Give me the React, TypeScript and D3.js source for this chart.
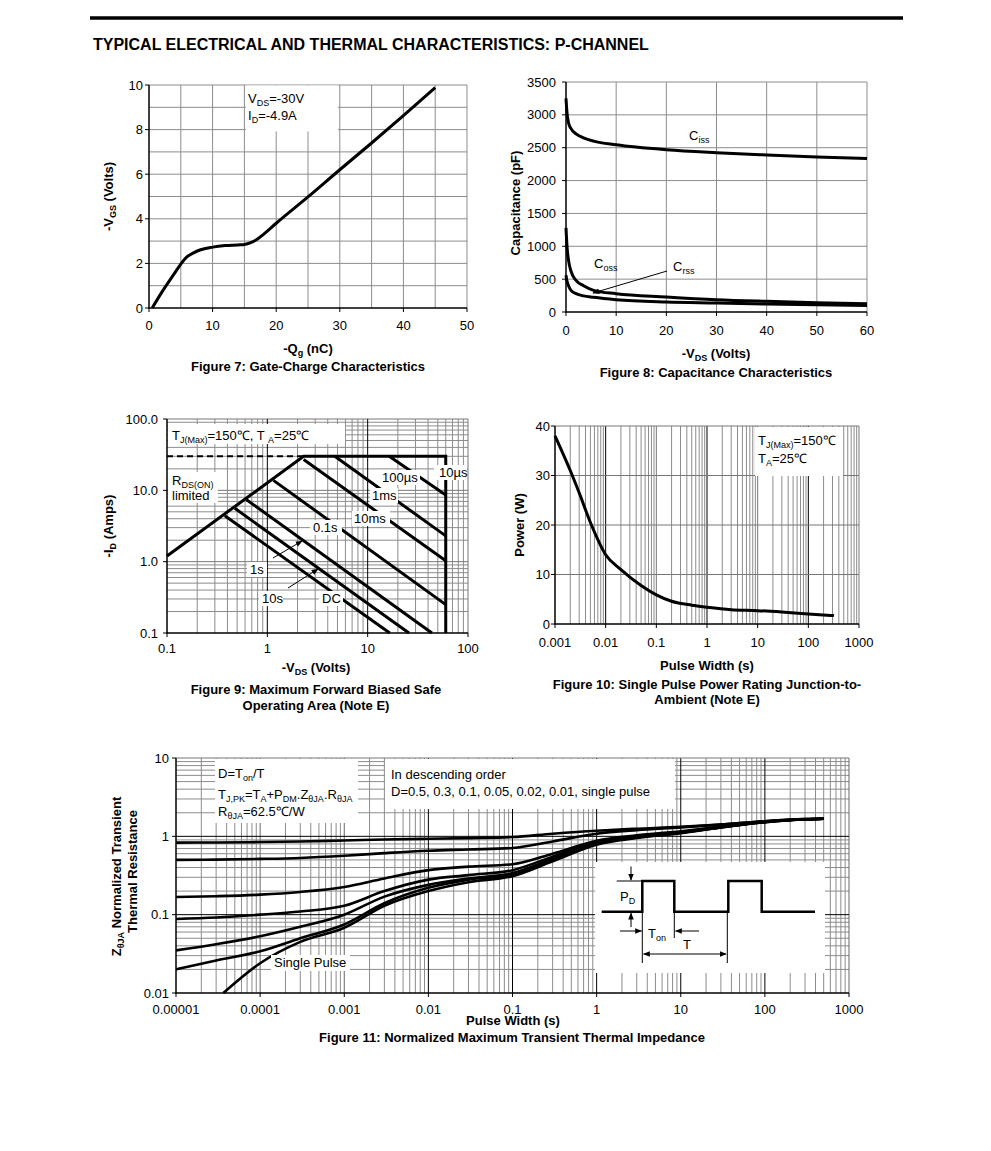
import React from "react";
import * as d3 from "d3";

const FONT = "'Liberation Sans', Arial, Helvetica, sans-serif";
const GRID = "#8c8c8c";

// ---------- Figure 7: Gate charge ----------
const gateChargeQg = [0.5, 2, 4, 5, 6, 7, 8, 10, 12, 14, 15, 16, 17, 18, 20, 25, 30, 35, 40, 45];
const gateChargeVgs = [0, 0.7, 1.55, 1.97, 2.3, 2.47, 2.6, 2.73, 2.8, 2.83, 2.85, 2.93, 3.08, 3.3, 3.8, 4.98, 6.2, 7.4, 8.63, 9.88];
const fig7XTicks = [0, 10, 20, 30, 40, 50];
const fig7YTicks = [0, 2, 4, 6, 8, 10];

// ---------- Figure 8: Capacitance ----------
const capVds = [0, 0.2, 0.5, 1, 2, 3.5, 5.5, 10, 20, 30, 40, 50, 60];
const capCiss = [3250, 3030, 2880, 2790, 2710, 2650, 2600, 2545, 2470, 2425, 2390, 2360, 2335];
const capCoss = [1280, 1000, 790, 620, 480, 400, 330, 278, 228, 187, 162, 142, 126];
const capCrss = [560, 470, 400, 330, 280, 245, 223, 187, 152, 137, 121, 111, 100];
const fig8XTicks = [0, 10, 20, 30, 40, 50, 60];
const fig8YTicks = [0, 500, 1000, 1500, 2000, 2500, 3000, 3500];

// ---------- Figure 9: SOA ----------
const soaRdsVds = [0.1, 2.3];
const soaRdsId = [1.2, 30];
const soaIdMax = 30;
const soaVdsMax = 60;
const soaStartVds = [16.4, 4.7, 2.3, 1.15, 0.62, 0.474, 0.377];
const soaStartId = [30, 30, 27, 13.8, 7.4, 5.6, 4.4];
const soaEndVds = [60, 60, 60, 60, 43.7, 25.8, 16.6];
const soaEndId = [8.6, 2.3, 1.03, 0.25, 0.1, 0.1, 0.1];
const soaLabels = ["100µs", "10µs", "1ms", "10ms", "0.1s", "1s", "10s", "DC"];
const soaXTicks = [0.1, 1, 10, 100];
const soaXTickLabels = ["0.1", "1", "10", "100"];
const soaYTicks = [0.1, 1, 10, 100];
const soaYTickLabels = ["0.1", "1.0", "10.0", "100.0"];

// ---------- Figure 10: Single pulse power ----------
const pulseWidth = [0.001, 0.002, 0.003, 0.005, 0.01, 0.02, 0.05, 0.1, 0.2, 0.5, 1, 3, 10, 30, 100, 320];
const pulsePower = [38, 31, 26.5, 20.5, 14, 11, 7.8, 5.9, 4.6, 3.8, 3.4, 2.9, 2.7, 2.4, 2.0, 1.7];
const fig10XTicks = [0.001, 0.01, 0.1, 1, 10, 100, 1000];
const fig10XTickLabels = ["0.001", "0.01", "0.1", "1", "10", "100", "1000"];
const fig10YTicks = [0, 10, 20, 30, 40];

// ---------- Figure 11: Transient thermal impedance ----------
const zthT = [1e-5, 3e-5, 1e-4, 3e-4, 1e-3, 3e-3, 0.01, 0.03, 0.1, 0.3, 1, 3, 10, 30, 100, 300, 500];
const zthD05 = [0.83, 0.835, 0.845, 0.86, 0.885, 0.91, 0.93, 0.95, 0.98, 1.08, 1.18, 1.25, 1.32, 1.42, 1.56, 1.66, 1.68];
const zthD03 = [0.5, 0.505, 0.515, 0.53, 0.565, 0.61, 0.655, 0.68, 0.71, 0.86, 1.08, 1.2, 1.3, 1.41, 1.56, 1.66, 1.68];
const zthD01 = [0.168, 0.172, 0.18, 0.195, 0.226, 0.29, 0.37, 0.41, 0.44, 0.6, 0.88, 1.03, 1.16, 1.33, 1.54, 1.65, 1.68];
const zthD005 = [0.088, 0.092, 0.1, 0.11, 0.13, 0.2, 0.28, 0.32, 0.37, 0.55, 0.84, 1.0, 1.13, 1.31, 1.53, 1.65, 1.68];
const zthD002 = [0.035, 0.042, 0.053, 0.07, 0.1, 0.17, 0.24, 0.29, 0.34, 0.52, 0.82, 0.98, 1.12, 1.3, 1.53, 1.65, 1.68];
const zthD001 = [0.02, 0.026, 0.034, 0.05, 0.075, 0.14, 0.22, 0.28, 0.32, 0.5, 0.8, 0.97, 1.11, 1.3, 1.52, 1.65, 1.68];
const zthSingleT = [3.65e-5, 1e-4, 3e-4, 1e-3, 3e-3, 0.01, 0.03, 0.1, 0.3, 1, 3, 10, 30, 100, 300, 500];
const zthSingle = [0.01, 0.024, 0.045, 0.068, 0.13, 0.2, 0.26, 0.31, 0.48, 0.78, 0.95, 1.1, 1.3, 1.52, 1.65, 1.68];
const fig11XTicks = [1e-5, 1e-4, 1e-3, 0.01, 0.1, 1, 10, 100, 1000];
const fig11XTickLabels = ["0.00001", "0.0001", "0.001", "0.01", "0.1", "1", "10", "100", "1000"];
const fig11YTicks = [0.01, 0.1, 1, 10];
const fig11YTickLabels = ["0.01", "0.1", "1", "10"];

// ---------- helpers ----------
function minorLog(lo: number, hi: number) {
  const out: number[] = [];
  const e0 = Math.round(Math.log10(lo));
  const e1 = Math.round(Math.log10(hi));
  for (let e = e0; e < e1; e++) for (let k = 2; k <= 9; k++) out.push(k * Math.pow(10, e));
  return out;
}

type Part = string | [string];
function Rich({ parts, sub = 9, shift = 3 }: { parts: Part[]; sub?: number; shift?: number }) {
  const out: React.ReactNode[] = [];
  let down = false;
  parts.forEach((p, i) => {
    if (Array.isArray(p)) {
      out.push(
        <tspan key={i} fontSize={sub} dy={down ? 0 : shift}>
          {p[0]}
        </tspan>
      );
      down = true;
    } else {
      out.push(
        <tspan key={i} dy={down ? -shift : 0}>
          {p}
        </tspan>
      );
      down = false;
    }
  });
  return <>{out}</>;
}

function VLines({ xs, y1, y2, color = GRID, w = 1 }: { xs: number[]; y1: number; y2: number; color?: string; w?: number }) {
  return (
    <>
      {xs.map((x, i) => (
        <line key={i} x1={x} x2={x} y1={y1} y2={y2} stroke={color} strokeWidth={w} />
      ))}
    </>
  );
}
function HLines({ ys, x1, x2, color = GRID, w = 1 }: { ys: number[]; x1: number; x2: number; color?: string; w?: number }) {
  return (
    <>
      {ys.map((y, i) => (
        <line key={i} x1={x1} x2={x2} y1={y} y2={y} stroke={color} strokeWidth={w} />
      ))}
    </>
  );
}

function Axes({ L, R, T, B, xt, yt }: { L: number; R: number; T: number; B: number; xt: number[]; yt: number[] }) {
  return (
    <g stroke="#000">
      <line x1={L} x2={L} y1={T} y2={B + 0.5} strokeWidth={1.5} />
      <line x1={L - 0.5} x2={R} y1={B} y2={B} strokeWidth={1.5} />
      {xt.map((x, i) => (
        <line key={"x" + i} x1={x} x2={x} y1={B} y2={B + 4} strokeWidth={1} />
      ))}
      {yt.map((y, i) => (
        <line key={"y" + i} x1={L - 4} x2={L} y1={y} y2={y} strokeWidth={1} />
      ))}
    </g>
  );
}

// ---------- Figure 7 ----------
function Fig7() {
  const L = 149, R = 467, T = 85, B = 308;
  const x = d3.scaleLinear().domain([0, 50]).range([L, R]);
  const y = d3.scaleLinear().domain([0, 10]).range([B, T]);
  const line = d3
    .line<number>()
    .x((_, i) => x(gateChargeQg[i]))
    .y((d) => y(d))
    .curve(d3.curveMonotoneX);
  return (
    <g>
      <VLines xs={d3.range(5, 50.01, 5).map((v) => x(v))} y1={T} y2={B} />
      <HLines ys={d3.range(1, 10.01, 1).map((v) => y(v))} x1={L} x2={R} />
      <rect x={246} y={T + 0.5} width={92} height={46} fill="#fff" />
      <text x={248} y={103}>
        <Rich parts={["V", ["DS"], "=-30V"]} />
      </text>
      <text x={248} y={120}>
        <Rich parts={["I", ["D"], "=-4.9A"]} />
      </text>
      <path d={line(gateChargeVgs) || ""} fill="none" stroke="#000" strokeWidth={3} strokeLinejoin="round" />
      <Axes L={L} R={R} T={T} B={B} xt={fig7XTicks.map((v) => x(v))} yt={fig7YTicks.map((v) => y(v))} />
      {fig7XTicks.map((v) => (
        <text key={v} x={x(v)} y={330} textAnchor="middle">
          {v}
        </text>
      ))}
      {fig7YTicks.map((v) => (
        <text key={v} x={143} y={y(v) + 4.5} textAnchor="end">
          {v}
        </text>
      ))}
      <text x={308} y={353} textAnchor="middle" fontWeight="bold">
        <Rich parts={["-Q", ["g"], " (nC)"]} />
      </text>
      <text x={308} y={371} textAnchor="middle" fontWeight="bold">
        Figure 7: Gate-Charge Characteristics
      </text>
      <text transform={`translate(113,${(T + B) / 2}) rotate(-90)`} textAnchor="middle" fontWeight="bold">
        <Rich parts={["-V", ["GS"], " (Volts)"]} />
      </text>
    </g>
  );
}

// ---------- Figure 8 ----------
function Fig8() {
  const L = 566, R = 867, T = 82, B = 312;
  const x = d3.scaleLinear().domain([0, 60]).range([L, R]);
  const y = d3.scaleLinear().domain([0, 3500]).range([B, T]);
  const line = d3
    .line<number>()
    .x((_, i) => x(capVds[i]))
    .y((d) => y(d))
    .curve(d3.curveMonotoneX);
  return (
    <g>
      <VLines xs={d3.range(10, 60.01, 10).map((v) => x(v))} y1={T} y2={B} />
      <HLines ys={d3.range(500, 3500.01, 500).map((v) => y(v))} x1={L} x2={R} />
      {[capCiss, capCoss, capCrss].map((s, i) => (
        <path key={i} d={line(s) || ""} fill="none" stroke="#000" strokeWidth={3} strokeLinejoin="round" />
      ))}
      <text x={689} y={140}>
        <Rich parts={["C", ["iss"]]} />
      </text>
      <text x={594} y={268}>
        <Rich parts={["C", ["oss"]]} />
      </text>
      <text x={673} y={271}>
        <Rich parts={["C", ["rss"]]} />
      </text>
      <line x1={667} y1={271} x2={593} y2={293} stroke="#000" strokeWidth={1} markerEnd="url(#arrowHead)" />
      <Axes L={L} R={R} T={T} B={B} xt={fig8XTicks.map((v) => x(v))} yt={fig8YTicks.map((v) => y(v))} />
      {fig8XTicks.map((v) => (
        <text key={v} x={x(v)} y={335} textAnchor="middle">
          {v}
        </text>
      ))}
      {fig8YTicks.map((v) => (
        <text key={v} x={556} y={y(v) + 4.5} textAnchor="end">
          {v}
        </text>
      ))}
      <text x={716} y={358} textAnchor="middle" fontWeight="bold">
        <Rich parts={["-V", ["DS"], " (Volts)"]} />
      </text>
      <text x={716} y={377} textAnchor="middle" fontWeight="bold">
        Figure 8: Capacitance Characteristics
      </text>
      <text transform={`translate(520,${(T + B) / 2 + 6}) rotate(-90)`} textAnchor="middle" fontWeight="bold">
        Capacitance (pF)
      </text>
    </g>
  );
}

// ---------- Figure 9 ----------
function Fig9() {
  const L = 167, R = 468, T = 419, B = 633;
  const x = d3.scaleLog().domain([0.1, 100]).range([L, R]);
  const y = d3.scaleLog().domain([0.1, 100]).range([B, T]);
  const pts = (a: number[][]) => a.map(([v, i]) => `${x(v)},${y(i)}`).join(" ");
  const labelBoxes: [number, number, number, number, number, number][] = [
    // textX, baseline, boxX, boxY, boxW, boxH
    [382, 482, 380, 470, 40, 15],
    [439, 477, 434, 465, 33, 15],
    [372, 500, 370, 488, 28, 15],
    [354, 523, 352, 511, 38, 15],
    [313, 532, 310, 520, 32, 15],
    [250, 574, 247, 562, 20, 15],
    [262, 603, 259, 591, 24, 15],
    [322, 603, 319, 591, 24, 15],
  ];
  return (
    <g>
      <VLines xs={minorLog(0.1, 100).map((v) => x(v))} y1={T} y2={B} />
      <HLines ys={minorLog(0.1, 100).map((v) => y(v))} x1={L} x2={R} />
      <HLines ys={[1, 10, 100].map((v) => y(v))} x1={L} x2={R} color="#777" />
      <VLines xs={[1, 10].map((v) => x(v))} y1={T} y2={B} color="#000" />
      <VLines xs={[x(100)]} y1={T} y2={B} color="#777" />
      <rect x={168} y={424} width={177} height={20} fill="#fff" />
      <rect x={168} y={472} width={50} height={31} fill="#fff" />
      <text x={172} y={440}>
        <Rich parts={["T", ["J(Max)"], "=150℃, T ", ["A"], "=25℃"]} />
      </text>
      <text x={172} y={485}>
        <Rich parts={["R", ["DS(ON)"]]} />
      </text>
      <text x={172} y={500}>limited</text>
      <line x1={x(0.1)} x2={x(soaRdsVds[1])} y1={y(soaIdMax)} y2={y(soaIdMax)} stroke="#000" strokeWidth={2} strokeDasharray="6,4" />
      <polyline
        points={pts([
          [soaRdsVds[0], soaRdsId[0]],
          [soaRdsVds[1], soaRdsId[1]],
          [soaVdsMax, soaIdMax],
          [soaVdsMax, 0.1],
        ])}
        fill="none"
        stroke="#000"
        strokeWidth={3}
        strokeLinejoin="miter"
      />
      {soaStartVds.map((v, i) => (
        <line
          key={i}
          x1={x(v)}
          y1={y(soaStartId[i])}
          x2={x(soaEndVds[i])}
          y2={y(soaEndId[i])}
          stroke="#000"
          strokeWidth={3}
        />
      ))}
      <line x1={273} y1={558} x2={302} y2={541} stroke="#000" strokeWidth={1} markerEnd="url(#arrowHead)" />
      <line x1={288} y1={588} x2={318} y2={569} stroke="#000" strokeWidth={1} markerEnd="url(#arrowHead)" />
      {labelBoxes.map((b, i) => (
        <g key={i}>
          <rect x={b[2]} y={b[3]} width={b[4]} height={b[5]} fill="#fff" />
          <text x={b[0]} y={b[1]}>
            {soaLabels[i]}
          </text>
        </g>
      ))}
      <Axes L={L} R={R} T={T} B={B} xt={soaXTicks.map((v) => x(v))} yt={soaYTicks.map((v) => y(v))} />
      {soaXTicks.map((v, i) => (
        <text key={i} x={x(v)} y={653} textAnchor="middle">
          {soaXTickLabels[i]}
        </text>
      ))}
      {soaYTicks.map((v, i) => (
        <text key={i} x={158} y={y(v) + 4.5} textAnchor="end">
          {soaYTickLabels[i]}
        </text>
      ))}
      <text x={316} y={672} textAnchor="middle" fontWeight="bold">
        <Rich parts={["-V", ["DS"], " (Volts)"]} />
      </text>
      <text x={316} y={694} textAnchor="middle" fontWeight="bold">
        Figure 9: Maximum Forward Biased Safe
      </text>
      <text x={316} y={710} textAnchor="middle" fontWeight="bold">
        Operating Area (Note E)
      </text>
      <text transform={`translate(113,${(T + B) / 2}) rotate(-90)`} textAnchor="middle" fontWeight="bold">
        <Rich parts={["-I", ["D"], " (Amps)"]} />
      </text>
    </g>
  );
}

// ---------- Figure 10 ----------
function Fig10() {
  const L = 555, R = 859, T = 426, B = 624;
  const x = d3.scaleLog().domain([0.001, 1000]).range([L, R]);
  const y = d3.scaleLinear().domain([0, 40]).range([B, T]);
  const line = d3
    .line<number>()
    .x((_, i) => x(pulseWidth[i]))
    .y((d) => y(d))
    .curve(d3.curveMonotoneX);
  return (
    <g>
      <VLines xs={minorLog(0.001, 1000).map((v) => x(v))} y1={T} y2={B} />
      <VLines xs={[0.1, 10, 1000].map((v) => x(v))} y1={T} y2={B} color="#777" />
      <VLines xs={[0.01, 1, 100].map((v) => x(v))} y1={T} y2={B} color="#000" />
      <HLines ys={[10, 20, 30, 40].map((v) => y(v))} x1={L} x2={R} color="#777" />
      <rect x={755} y={T + 1} width={88} height={49} fill="#fff" />
      <text x={758} y={445}>
        <Rich parts={["T", ["J(Max)"], "=150℃"]} />
      </text>
      <text x={758} y={463}>
        <Rich parts={["T", ["A"], "=25℃"]} />
      </text>
      <path d={line(pulsePower) || ""} fill="none" stroke="#000" strokeWidth={3} strokeLinejoin="round" />
      <Axes L={L} R={R} T={T} B={B} xt={fig10XTicks.map((v) => x(v))} yt={fig10YTicks.map((v) => y(v))} />
      {fig10XTicks.map((v, i) => (
        <text key={i} x={x(v)} y={647} textAnchor="middle">
          {fig10XTickLabels[i]}
        </text>
      ))}
      {fig10YTicks.map((v) => (
        <text key={v} x={550} y={y(v) + 4.5} textAnchor="end">
          {v}
        </text>
      ))}
      <text x={707} y={670} textAnchor="middle" fontWeight="bold">
        Pulse Width (s)
      </text>
      <text x={707} y={689} textAnchor="middle" fontWeight="bold">
        Figure 10: Single Pulse Power Rating Junction-to-
      </text>
      <text x={707} y={704} textAnchor="middle" fontWeight="bold">
        Ambient (Note E)
      </text>
      <text transform={`translate(524,${(T + B) / 2}) rotate(-90)`} textAnchor="middle" fontWeight="bold">
        Power (W)
      </text>
    </g>
  );
}

// ---------- Figure 11 ----------
function Fig11() {
  const L = 176, R = 849, T = 758, B = 993;
  const x = d3.scaleLog().domain([1e-5, 1000]).range([L, R]);
  const y = d3.scaleLog().domain([0.01, 10]).range([B, T]);
  const mk = (ts: number[]) =>
    d3
      .line<number>()
      .x((_, i) => x(ts[i]))
      .y((d) => y(d))
      .curve(d3.curveMonotoneX);
  const lineD = mk(zthT);
  const lineS = mk(zthSingleT);
  const series = [zthD05, zthD03, zthD01, zthD005, zthD002, zthD001];
  const ix = 595, iy = 862;
  const base = iy + 49.7, high = iy + 19;
  const wave = [
    [ix + 6.7, base], [ix + 47.3, base], [ix + 47.3, high], [ix + 79.3, high], [ix + 79.3, base],
    [ix + 133.3, base], [ix + 133.3, high], [ix + 166.7, high], [ix + 166.7, base], [ix + 220, base],
  ];
  return (
    <g>
      <VLines xs={minorLog(1e-5, 1000).map((v) => x(v))} y1={T} y2={B} />
      <HLines ys={minorLog(0.01, 10).map((v) => y(v))} x1={L} x2={R} />
      <VLines xs={[1e-4, 1e-3, 1000].map((v) => x(v))} y1={T} y2={B} color="#666" />
      <VLines xs={[0.01, 0.1, 1, 10, 100].map((v) => x(v))} y1={T} y2={B} color="#000" />
      <HLines ys={[0.1, 1].map((v) => y(v))} x1={L} x2={R} color="#000" />
      <HLines ys={[y(10)]} x1={L} x2={R} color="#777" />
      {series.map((s, i) => (
        <path key={i} d={lineD(s) || ""} fill="none" stroke="#000" strokeWidth={2.6} strokeLinejoin="round" />
      ))}
      <path d={lineS(zthSingle) || ""} fill="none" stroke="#000" strokeWidth={2.6} strokeLinejoin="round" />
      <rect x={215} y={T + 1} width={143} height={64} fill="#fff" />
      <rect x={385} y={T + 1} width={290} height={50} fill="#fff" />
      <rect x={271} y={955} width={79} height={16} fill="#fff" />
      <rect x={ix} y={iy} width={230} height={111} fill="#fff" />
      <text x={218} y={778}>
        <Rich parts={["D=T", ["on"], "/T"]} />
      </text>
      <text x={218} y={799}>
        <Rich parts={["T", ["J,PK"], "=T", ["A"], "+P", ["DM"], ".Z", ["θJA"], ".R", ["θJA"]]} />
      </text>
      <text x={218} y={816}>
        <Rich parts={["R", ["θJA"], "=62.5℃/W"]} />
      </text>
      <text x={391} y={779}>In descending order</text>
      <text x={391} y={796}>D=0.5, 0.3, 0.1, 0.05, 0.02, 0.01, single pulse</text>
      <text x={274} y={967}>Single Pulse</text>
      <polyline points={wave.map((p) => p.join(",")).join(" ")} fill="none" stroke="#000" strokeWidth={2.5} />
      <g stroke="#000" strokeWidth={1}>
        <line x1={ix + 21.7} x2={ix + 47.3} y1={high} y2={high} />
        <line x1={ix + 36} x2={ix + 36} y1={iy + 4.5} y2={high - 1} markerEnd="url(#arrowHead)" />
        <line x1={ix + 36} x2={ix + 36} y1={iy + 65} y2={base + 1.5} markerEnd="url(#arrowHead)" />
        <line x1={ix + 47.3} x2={ix + 47.3} y1={base} y2={iy + 101} />
        <line x1={ix + 79.3} x2={ix + 79.3} y1={base} y2={iy + 76} />
        <line x1={ix + 132.3} x2={ix + 132.3} y1={base} y2={iy + 101} />
        <line x1={ix + 25} x2={ix + 46.5} y1={iy + 69} y2={iy + 69} markerEnd="url(#arrowHead)" />
        <line x1={ix + 104} x2={ix + 80.5} y1={iy + 69} y2={iy + 69} markerEnd="url(#arrowHead)" />
        <line x1={ix + 48.5} x2={ix + 131} y1={iy + 92} y2={iy + 92} markerStart="url(#arrowHead)" markerEnd="url(#arrowHead)" />
      </g>
      <text x={ix + 25} y={iy + 39}>
        <Rich parts={["P", ["D"]]} />
      </text>
      <text x={ix + 53} y={iy + 76}>
        <Rich parts={["T", ["on"]]} />
      </text>
      <text x={ix + 88} y={iy + 87}>T</text>
      <Axes L={L} R={R} T={T} B={B} xt={fig11XTicks.map((v) => x(v))} yt={fig11YTicks.map((v) => y(v))} />
      {fig11XTicks.map((v, i) => (
        <text key={i} x={x(v)} y={1014} textAnchor="middle">
          {fig11XTickLabels[i]}
        </text>
      ))}
      {fig11YTicks.map((v, i) => (
        <text key={i} x={169} y={y(v) + 4.5} textAnchor="end">
          {fig11YTickLabels[i]}
        </text>
      ))}
      <text x={513} y={1025} textAnchor="middle" fontWeight="bold">
        Pulse Width (s)
      </text>
      <text x={512} y={1042} textAnchor="middle" fontWeight="bold">
        Figure 11: Normalized Maximum Transient Thermal Impedance
      </text>
      <text transform={`translate(121,${(T + B) / 2 + 1}) rotate(-90)`} textAnchor="middle" fontWeight="bold">
        <Rich parts={["Z", ["θJA"], " Normalized Transient"]} />
      </text>
      <text transform={`translate(137,${(T + B) / 2 - 4}) rotate(-90)`} textAnchor="middle" fontWeight="bold">
        Thermal Resistance
      </text>
    </g>
  );
}

export default function App() {
  return (
    <svg
      width={991}
      height={1151}
      style={{ position: "absolute", left: 0, top: 0, background: "#fff" }}
      fontFamily={FONT}
      fontSize={13}
    >
      <defs>
        <marker
          id="arrowHead"
          viewBox="0 0 10 10"
          refX="9"
          refY="5"
          markerWidth="7"
          markerHeight="7"
          markerUnits="userSpaceOnUse"
          orient="auto-start-reverse"
        >
          <path d="M0,1 L10,5 L0,9 z" fill="#000" />
        </marker>
      </defs>
      <rect width={991} height={1151} fill="#fff" />
      <line x1={90} x2={903} y1={18} y2={18} stroke="#000" strokeWidth={3.5} />
      <text x={93} y={50} fontWeight="bold" fontSize={16}>
        TYPICAL ELECTRICAL AND THERMAL CHARACTERISTICS: P-CHANNEL
      </text>
      <Fig7 />
      <Fig8 />
      <Fig9 />
      <Fig10 />
      <Fig11 />
    </svg>
  );
}
